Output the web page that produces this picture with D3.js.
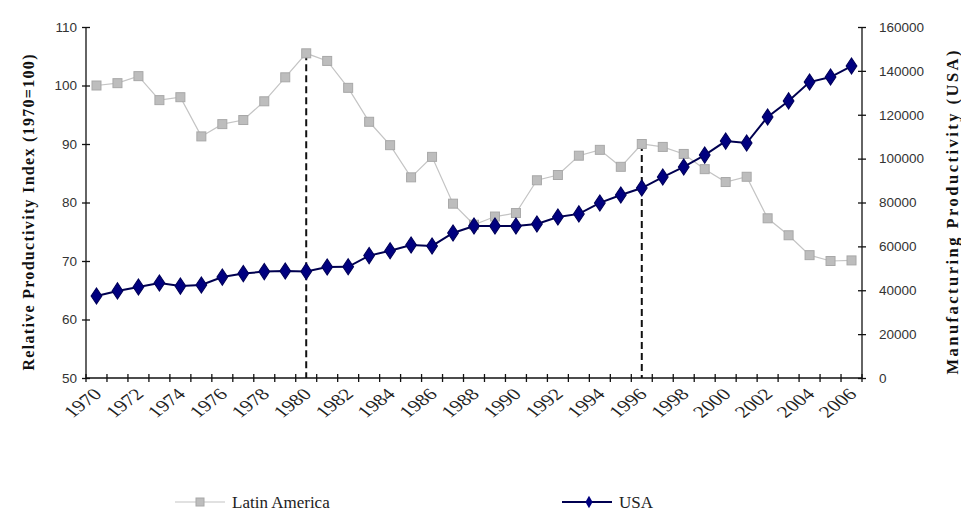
<!DOCTYPE html>
<html>
<head>
<meta charset="utf-8">
<script src="https://cdn.jsdelivr.net/npm/d3@7"></script>
<style>
  html, body { margin: 0; padding: 0; background: #fff; }
  svg { display: block; }
</style>
</head>
<body>
<svg id="chart" width="961" height="516"></svg>
<script>
// Years on the category axis
const years = [1970, 1971, 1972, 1973, 1974, 1975, 1976, 1977, 1978, 1979,
               1980, 1981, 1982, 1983, 1984, 1985, 1986, 1987, 1988, 1989,
               1990, 1991, 1992, 1993, 1994, 1995, 1996, 1997, 1998, 1999,
               2000, 2001, 2002, 2003, 2004, 2005, 2006];

// Relative productivity index, Latin America (1970 = 100), left axis
const latinAmerica = [100, 100.4, 101.6, 97.5, 98.0, 91.3, 93.4, 94.1, 97.3, 101.4,
                      105.5, 104.2, 99.6, 93.8, 89.8, 84.3, 87.8, 79.8, 76.2, 77.6,
                      78.2, 83.8, 84.7, 88.0, 89.0, 86.1, 90.0, 89.5, 88.3, 85.7,
                      83.5, 84.4, 77.3, 74.4, 71.0, 70.0, 70.1];

// Manufacturing productivity, USA, right axis
const usa = [37400, 39700, 41500, 43300, 41900, 42400, 46000, 47600, 48500, 48800,
             48600, 50600, 50700, 55800, 58000, 60600, 60200, 66100, 69300, 69300,
             69300, 70200, 73400, 74800, 79800, 83400, 86600, 91600, 96200, 101600,
             108000, 107100, 119000, 126300, 134900, 137200, 142200];

// Tick values
const leftTicks = [50, 60, 70, 80, 90, 100, 110];
const rightTicks = [0, 20000, 40000, 60000, 80000, 100000, 120000, 140000, 160000];
const yearLabels = [1970, 1972, 1974, 1976, 1978, 1980, 1982, 1984, 1986, 1988,
                    1990, 1992, 1994, 1996, 1998, 2000, 2002, 2004, 2006];

// Years marked with a vertical dashed reference line
const markedYears = [1980, 1996];

const seriesNames = ["Latin America", "USA"];

const svg = d3.select("#chart");
const plot = { left: 86, right: 862, top: 27, bottom: 378 };

const x = d3.scaleBand().domain(years).range([plot.left, plot.right]);
const cx = d => x(d) + x.bandwidth() / 2;
const yL = d3.scaleLinear().domain([50, 110]).range([plot.bottom, plot.top]);
const yR = d3.scaleLinear().domain([0, 160000]).range([plot.bottom, plot.top]);

const numFont = "'Liberation Sans', Arial, sans-serif";
const serifFont = "'Liberation Serif', 'Times New Roman', serif";

// Left axis, ticks crossing the axis line
const gL = svg.append("g")
  .attr("transform", `translate(${plot.left},0)`)
  .call(d3.axisLeft(yL).tickValues(leftTicks).tickSize(4).tickPadding(5).tickFormat(d3.format("d")));
gL.selectAll(".tick line").attr("x1", 4);
gL.select(".domain").attr("d", `M0,${plot.top}V${plot.bottom}`);

// Right axis
const gR = svg.append("g")
  .attr("transform", `translate(${plot.right},0)`)
  .call(d3.axisRight(yR).tickValues(rightTicks).tickSize(4).tickPadding(13).tickFormat(d3.format("d")));
gR.selectAll(".tick line").attr("x1", -4);
gR.select(".domain").attr("d", `M0,${plot.top}V${plot.bottom}`);

[gL, gR].forEach(g => {
  g.selectAll("path, line").attr("stroke", "#111").attr("stroke-width", 1.3);
  g.selectAll("text").attr("font-family", numFont).attr("font-size", 13.5).attr("fill", "#333");
});

// Category axis: line, tick marks at band edges, slanted year labels
const gX = svg.append("g");
gX.append("line")
  .attr("x1", plot.left).attr("x2", plot.right)
  .attr("y1", plot.bottom).attr("y2", plot.bottom)
  .attr("stroke", "#111").attr("stroke-width", 1.3);
const edges = years.map(d => x(d)).concat([plot.right]);
gX.selectAll("line.tk").data(edges).join("line").attr("class", "tk")
  .attr("x1", d => d).attr("x2", d => d)
  .attr("y1", plot.bottom - 4).attr("y2", plot.bottom + 4)
  .attr("stroke", "#111").attr("stroke-width", 1.3);
gX.selectAll("text").data(yearLabels).join("text")
  .attr("transform", d => `translate(${cx(d) + 1},${plot.bottom + 13}) scale(1.3,1) rotate(-45)`)
  .attr("text-anchor", "end")
  .attr("dy", "0.35em")
  .attr("font-family", serifFont).attr("font-size", 16.5).attr("fill", "#222")
  .text(d => d);

// Axis titles
svg.append("text")
  .attr("transform", `translate(34,${(plot.top + plot.bottom) / 2 + 10}) rotate(-90)`)
  .attr("text-anchor", "middle")
  .attr("font-family", serifFont).attr("font-weight", "bold").attr("font-size", 16)
  .attr("textLength", 316).attr("lengthAdjust", "spacing")
  .attr("fill", "#111")
  .text("Relative Productivity Index (1970=100)");

svg.append("text")
  .attr("transform", `translate(958,${(plot.top + plot.bottom) / 2 + 10}) rotate(-90)`)
  .attr("text-anchor", "middle")
  .attr("font-family", serifFont).attr("font-weight", "bold").attr("font-size", 16.5)
  .attr("textLength", 324).attr("lengthAdjust", "spacing")
  .attr("fill", "#111")
  .text("Manufacturing Productivity (USA)");

// Dashed reference lines from the Latin America point down to the axis
const laByYear = new Map(years.map((y, i) => [y, latinAmerica[i]]));
svg.selectAll("line.ref").data(markedYears).join("line").attr("class", "ref")
  .attr("x1", d => cx(d)).attr("x2", d => cx(d))
  .attr("y1", d => yL(laByYear.get(d))).attr("y2", plot.bottom)
  .attr("stroke", "#111").attr("stroke-width", 2).attr("stroke-dasharray", "7,4");

// Latin America series
const laData = years.map((y, i) => ({ year: y, v: latinAmerica[i] }));
svg.append("path").datum(laData)
  .attr("fill", "none").attr("stroke", "#c4c4c4").attr("stroke-width", 1.2)
  .attr("d", d3.line().x(d => cx(d.year)).y(d => yL(d.v)));
svg.selectAll("rect.la").data(laData).join("rect").attr("class", "la")
  .attr("x", d => cx(d.year) - 4.5).attr("y", d => yL(d.v) - 4.5)
  .attr("width", 9).attr("height", 9)
  .attr("fill", "#bdbdbd").attr("stroke", "#a8a8a8").attr("stroke-width", 1);

// USA series
const usData = years.map((y, i) => ({ year: y, v: usa[i] }));
svg.append("path").datum(usData)
  .attr("fill", "none").attr("stroke", "#000050").attr("stroke-width", 2)
  .attr("d", d3.line().x(d => cx(d.year)).y(d => yR(d.v)));
const diamond = d3.symbol().type(d3.symbolDiamond).size(75);
svg.selectAll("path.us").data(usData).join("path").attr("class", "us")
  .attr("transform", d => `translate(${cx(d.year)},${yR(d.v)}) scale(1.15,1)`)
  .attr("d", diamond)
  .attr("fill", "#000080").attr("stroke", "#00005a").attr("stroke-width", 1);

// Legend
const legend = svg.append("g");
const items = [
  { name: seriesNames[0], x0: 175, color: "#c4c4c4" },
  { name: seriesNames[1], x0: 562, color: "#000050" }
];
items.forEach((it, i) => {
  const g = legend.append("g");
  g.append("line").attr("x1", it.x0).attr("x2", it.x0 + 50).attr("y1", 502).attr("y2", 502)
    .attr("stroke", it.color).attr("stroke-width", i === 0 ? 1.2 : 2);
  if (i === 0) {
    g.append("rect").attr("x", it.x0 + 25 - 4).attr("y", 498).attr("width", 8).attr("height", 8)
      .attr("fill", "#bdbdbd").attr("stroke", "#a8a8a8");
  } else {
    g.append("path").attr("transform", `translate(${it.x0 + 27},502)`)
      .attr("d", d3.symbol().type(d3.symbolDiamond).size(45))
      .attr("fill", "#000080");
  }
  g.append("text").attr("x", it.x0 + 57).attr("y", 508)
    .attr("font-family", serifFont).attr("font-size", 17).attr("fill", "#222")
    .text(it.name);
});
</script>
</body>
</html>
